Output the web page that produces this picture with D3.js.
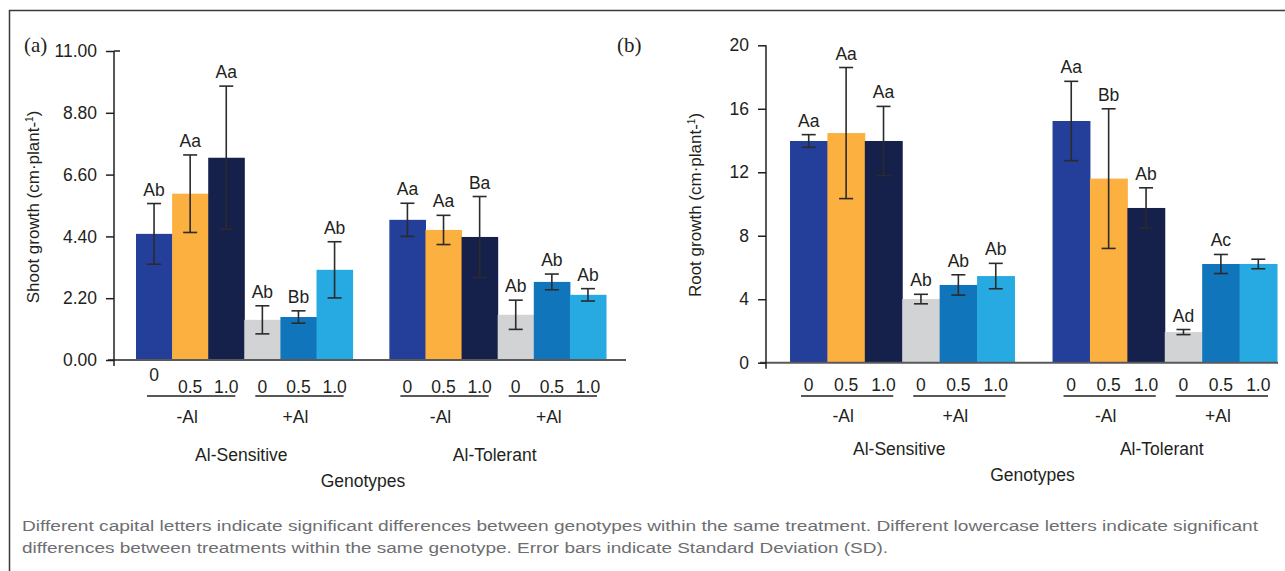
<!DOCTYPE html>
<html>
<head>
<meta charset="utf-8">
<script src="https://cdn.jsdelivr.net/npm/d3@7"></script>
<style>
  body { margin: 0; background: #fff; }
  text { font-family: "Liberation Sans", Arial, sans-serif; fill: #231f20; }
</style>
</head>
<body>
<div id="container"></div>
<script>

// categories
var genotypes = ["Al-Sensitive", "Al-Tolerant"];
var aluminium = ["-Al", "+Al"];
var treatments = ["0", "0.5", "1.0"];
var barColors = ["#233f99", "#fbb040", "#15204b", "#d1d3d4", "#1175bc", "#27aae1"];

// (a) shoot growth, order: genotype > Al > treatment
var shootMeans = [4.49, 5.92, 7.20, 1.43, 1.53, 3.21, 4.99, 4.63, 4.38, 1.61, 2.78, 2.32];
var shootSD = [1.08, 1.38, 2.55, 0.50, 0.22, 1.00, 0.59, 0.52, 1.44, 0.52, 0.28, 0.22];
var shootLetters = ["Ab", "Aa", "Aa", "Ab", "Bb", "Ab", "Aa", "Aa", "Ba", "Ab", "Ab", "Ab"];
var shootTicks = [0, 2.2, 4.4, 6.6, 8.8, 11];

// (b) root growth
var rootMeans = [13.97, 14.47, 13.97, 4.01, 4.90, 5.46, 15.23, 11.60, 9.75, 1.93, 6.22, 6.22];
var rootSD = [0.40, 4.13, 2.18, 0.30, 0.64, 0.80, 2.50, 4.40, 1.27, 0.16, 0.60, 0.30];
var rootLetters = ["Aa", "Aa", "Aa", "Ab", "Ab", "Ab", "Aa", "Bb", "Ab", "Ad", "Ac", ""];
var rootTicks = [0, 4, 8, 12, 16, 20];

var captionLines = [
  "Different capital letters indicate significant differences between genotypes within the same treatment. Different lowercase letters indicate significant",
  "differences between treatments within the same genotype. Error bars indicate Standard Deviation (SD)."
];

var width = 1285, height = 571;

var svg = d3.select("div#container")
  .append("svg")
  .attr("width", width)
  .attr("height", height);

// frame (top and left only)
svg.append("path")
  .attr("d", "M9.5,571 V10.5 H1285")
  .attr("fill", "none")
  .attr("stroke", "#3a3a3a")
  .attr("stroke-width", 1.5);

function drawPanel(p) {
  var g = svg.append("g");

  var x0 = d3.scaleBand().domain(genotypes).range(p.xRange).paddingInner(0.145);
  var x1 = d3.scaleBand().domain(d3.range(6)).range([0, x0.bandwidth()]);
  var y = d3.scaleLinear().domain([0, p.max]).range(p.yRange);

  var rows = [];
  genotypes.forEach(function(gen, gi) {
    aluminium.forEach(function(al, ai) {
      treatments.forEach(function(t, ti) {
        var i = gi * 6 + ai * 3 + ti;
        rows.push({gen: gen, al: al, t: t, k: ai * 3 + ti,
                   mean: p.means[i], sd: p.sds[i], letter: p.letters[i]});
      });
    });
  });
  var cx = function(d) { return x0(d.gen) + x1(d.k) + x1.bandwidth() / 2; };

  // bars
  g.selectAll("rect.bar").data(rows).enter().append("rect")
    .attr("x", function(d) { return x0(d.gen) + x1(d.k); })
    .attr("y", function(d) { return y(d.mean); })
    .attr("width", x1.bandwidth() + 0.5)
    .attr("height", function(d) { return y(0) - y(d.mean); })
    .attr("fill", function(d) { return barColors[d.k]; });

  // error bars
  var eb = g.selectAll("g.err").data(rows).enter().append("g")
    .attr("stroke", "#2b2b2b").attr("stroke-width", 1.6);
  eb.append("line")
    .attr("x1", cx).attr("x2", cx)
    .attr("y1", function(d) { return y(d.mean + d.sd); })
    .attr("y2", function(d) { return y(d.mean - d.sd); });
  [1, -1].forEach(function(s) {
    eb.append("line")
      .attr("x1", function(d) { return cx(d) - 7; })
      .attr("x2", function(d) { return cx(d) + 7; })
      .attr("y1", function(d) { return y(d.mean + s * d.sd); })
      .attr("y2", function(d) { return y(d.mean + s * d.sd); });
  });

  // letters
  g.selectAll("text.lab").data(rows).enter().append("text")
    .attr("x", cx)
    .attr("y", function(d) { return y(d.mean + d.sd) - 8; })
    .attr("text-anchor", "middle")
    .style("font-size", "17.5px")
    .text(function(d) { return d.letter; });

  // x axis line
  g.append("line")
    .attr("x1", p.axisX - 6).attr("x2", p.xEnd)
    .attr("y1", y(0)).attr("y2", y(0))
    .attr("stroke", "#58595b").attr("stroke-width", 2);

  // y axis
  var yAxis = g.append("g")
    .attr("transform", "translate(" + p.axisX + ",0)")
    .call(d3.axisLeft(y).tickValues(p.ticks).tickFormat(p.fmt).tickSize(8).tickPadding(9).tickSizeOuter(0));
  yAxis.select(".domain").remove();
  yAxis.selectAll(".tick line").attr("stroke", "#231f20").attr("stroke-width", 1.5);
  yAxis.selectAll(".tick text").style("font-size", "17.5px").style("font-family", null).attr("fill", "#231f20");
  g.append("line")
    .attr("x1", p.axisX).attr("x2", p.axisX)
    .attr("y1", y(p.max)).attr("y2", y(0) + 6)
    .attr("stroke", "#231f20").attr("stroke-width", 1.5);
  if (p.topCross) {
    g.append("line")
      .attr("x1", p.axisX).attr("x2", p.axisX + 6)
      .attr("y1", y(p.max)).attr("y2", y(p.max))
      .attr("stroke", "#231f20").attr("stroke-width", 1.5);
  }

  // treatment labels
  g.selectAll("text.tr").data(rows).enter().append("text")
    .attr("x", cx)
    .attr("y", function(d, i) { return p.tickY - (p.raiseFirst && i === 0 ? 12 : 0); })
    .attr("text-anchor", "middle")
    .style("font-size", "17.5px")
    .text(function(d) { return d.t; });

  // Al groups: underline + label
  var alRows = [];
  genotypes.forEach(function(gen) {
    aluminium.forEach(function(al, ai) { alRows.push({gen: gen, al: al, ai: ai}); });
  });
  g.selectAll("line.ul").data(alRows).enter().append("line")
    .attr("x1", function(d) { return x0(d.gen) + x1(d.ai * 3) + 11; })
    .attr("x2", function(d) { return x0(d.gen) + x1(d.ai * 3 + 2) + x1.bandwidth() - 9; })
    .attr("y1", p.ulY).attr("y2", p.ulY)
    .attr("stroke", "#231f20").attr("stroke-width", 1.5);
  g.selectAll("text.al").data(alRows).enter().append("text")
    .attr("x", function(d) { return x0(d.gen) + x1(d.ai * 3 + 1) + x1.bandwidth() / 2 - 3; })
    .attr("y", p.alY)
    .attr("text-anchor", "middle")
    .style("font-size", "17.5px")
    .text(function(d) { return d.al; });

  // genotype labels
  g.selectAll("text.gen").data(genotypes).enter().append("text")
    .attr("x", function(d) { return x0(d) + x0.bandwidth() / 2 - 3; })
    .attr("y", p.genY)
    .attr("text-anchor", "middle")
    .style("font-size", "17.5px")
    .text(function(d) { return d; });

  g.append("text")
    .attr("x", (p.xRange[0] + p.xRange[1]) / 2 + p.titleShift)
    .attr("y", p.genY + 26)
    .attr("text-anchor", "middle")
    .style("font-size", "17.5px")
    .text("Genotypes");

  // y title
  var yt = g.append("text")
    .attr("transform", "translate(" + p.yTitleX + "," + p.yTitleY + ") rotate(-90)")
    .attr("text-anchor", "middle")
    .style("font-size", "17px");
  yt.append("tspan").text(p.yTitle);
  yt.append("tspan").attr("dy", -6).style("font-size", "10px").text("1");
  yt.append("tspan").attr("dy", 6).text(")");

  // panel letter
  svg.append("text")
    .attr("x", p.letterX).attr("y", 52)
    .style("font-family", "'Liberation Serif', 'DejaVu Serif', serif")
    .style("font-size", "21px")
    .text(p.letter);
}

drawPanel({
  letter: "(a)", letterX: 24,
  means: shootMeans, sds: shootSD, letters: shootLetters, ticks: shootTicks,
  fmt: d3.format(".2f"), max: 11,
  xRange: [136, 606], yRange: [360, 51], axisX: 114, xEnd: 626, topCross: true,
  tickY: 393, raiseFirst: true, ulY: 396, alY: 423, genY: 461, titleShift: -8,
  yTitle: "Shoot growth (cm·plant-", yTitleX: 39, yTitleY: 207
});

drawPanel({
  letter: "(b)", letterX: 617,
  means: rootMeans, sds: rootSD, letters: rootLetters, ticks: rootTicks,
  fmt: d3.format("d"), max: 20,
  xRange: [790, 1277], yRange: [362.7, 45.3], axisX: 766, xEnd: 1278, topCross: false,
  tickY: 391, raiseFirst: false, ulY: 396, alY: 422, genY: 455, titleShift: -1,
  yTitle: "Root growth (cm·plant-", yTitleX: 701, yTitleY: 205
});

// caption
svg.selectAll("text.cap").data(captionLines).enter().append("text")
  .attr("x", 22)
  .attr("y", function(d, i) { return 531 + i * 22; })
  .attr("textLength", function(d, i) { return i === 0 ? 1236 : 866; })
  .attr("lengthAdjust", "spacingAndGlyphs")
  .style("font-size", "15.5px")
  .style("fill", "#6d6e71")
  .text(function(d) { return d; });

</script>
</body>
</html>
